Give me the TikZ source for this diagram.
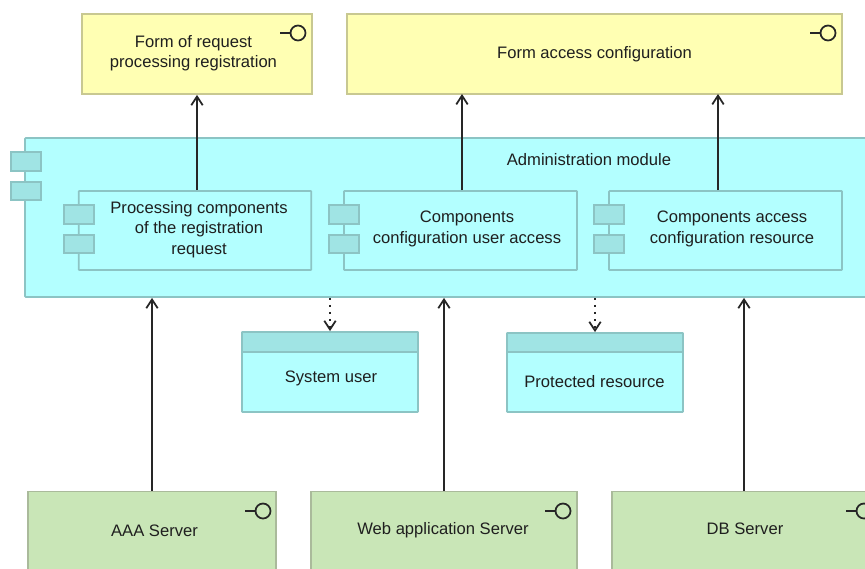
\documentclass[tikz,border=0pt]{standalone}
\usepackage{fontspec}
\setmainfont{Liberation Sans}
\usetikzlibrary{arrows.meta}
\definecolor{modfill}{RGB}{179,255,255}
\definecolor{modline}{RGB}{140,196,196}
\definecolor{portfill}{RGB}{160,228,228}
\definecolor{formfill}{RGB}{255,255,179}
\definecolor{formline}{RGB}{200,200,145}
\definecolor{srvfill}{RGB}{201,230,183}
\definecolor{srvline}{RGB}{170,186,155}
\tikzset{
  every node/.style={inner sep=0pt,align=center,font=\fontsize{9.45}{11.6}\selectfont,text=black!88},
  modbox/.style={draw=modline,fill=modfill,line width=1pt,rounded corners=0.4pt},
  portbox/.style={draw=modline,fill=portfill,line width=1pt,minimum width=0.6cm,minimum height=0.37cm},
  formbox/.style={draw=formline,fill=formfill,line width=1pt,minimum height=1.6cm},
  srvbox/.style={draw=srvline,fill=srvfill,line width=1pt,minimum height=2cm},
  lolli/.style={circle,draw=black!85,line width=1pt,minimum size=0.3cm},
  link/.style={black!85,line width=1pt,->,>={Straight Barb[length=5pt,width=6.5pt]}},
}
\begin{document}
\begin{tikzpicture}[x=0.02cm,y=-0.02cm]
\useasboundingbox (0,0) rectangle (865,568);
\clip (0,0) rectangle (865,568);
\node [formbox,minimum width=4.6cm] (formreq) at (197,54) {};
\node (formreqtxt) at (193.5,53) {Form of request\\processing registration};
\node [formbox,minimum width=9.9cm] (formacc) at (594.5,54) {Form access configuration};
\node [modbox,minimum width=17.5cm,minimum height=3.18cm] (admin) at (462.5,217.5) {};
\node (admintxt) at (589,159.5) {Administration module};
\node [portbox] (adminp1) at (26,161.5) {};
\node [portbox] (adminp2) at (26,191) {};
\node [modbox,minimum width=4.65cm,minimum height=1.58cm] (procreq) at (195,230.5) {};
\node [modbox,minimum width=4.66cm,minimum height=1.58cm] (confuser) at (460.5,230.5) {};
\node [modbox,minimum width=4.66cm,minimum height=1.58cm] (confres) at (725.5,230.5) {};
\foreach \n/\x in {procreq/79,confuser/344,confres/609} {
  \node [portbox] (\n p1) at (\x,214.5) {};
  \node [portbox] (\n p2) at (\x,244) {};
}
\node (procreqtxt) at (199,229.5) {Processing components\\of the registration\\request};
\node (confusertxt) at (467,229) {Components\\configuration user access};
\node (confrestxt) at (732,229) {Components access\\configuration resource};
\node [modbox,minimum width=3.52cm,minimum height=1.6cm] (sysuser) at (330,372) {};
\node [modbox,fill=portfill,minimum width=3.52cm,minimum height=0.4cm] (sysuserh) at (330,342) {};
\node (sysusertxt) at (331,378) {System user};
\node [modbox,minimum width=3.52cm,minimum height=1.58cm] (protres) at (595,372.5) {};
\node [modbox,fill=portfill,minimum width=3.52cm,minimum height=0.38cm] (protresh) at (595,342.5) {};
\node (protrestxt) at (594.5,382) {Protected resource};
\node [srvbox,minimum width=4.96cm] (aaa) at (152,541.5) {};
\node (aaatxt) at (154.5,531) {AAA Server};
\node [srvbox,minimum width=5.32cm] (web) at (444,541.5) {};
\node (webtxt) at (443,530) {Web application Server};
\node [srvbox,minimum width=5.28cm] (db) at (744,541.5) {};
\node (dbtxt) at (745,529) {DB Server};
\foreach \n/\x/\y in {lolreq/298/33,lolacc/828/33,lolaaa/263/511,lolweb/563/511,loldb/864/511} {
  \node [lolli] (\n) at (\x,\y) {};
  \draw [black!85,line width=1pt] (\n.west) -- ++(-10,0);
}
\coordinate (accuser) at (462,94);
\coordinate (accres) at (718,94);
\draw [link] (formreq.south |- procreq.north) -- (formreq.south);
\draw [link] (accuser |- confuser.north) -- (accuser);
\draw [link] (accres |- confres.north) -- (accres);
\draw [link] (aaa.north) -- (aaa.north |- admin.south);
\draw [link] (web.north) -- (web.north |- admin.south);
\draw [link] (db.north) -- (db.north |- admin.south);
\draw [link,dash pattern=on 1.3pt off 2.7pt] (sysuser.north |- admin.south) -- (sysuser.north);
\draw [link,dash pattern=on 1.3pt off 2.7pt] (protres.north |- admin.south) -- (protres.north);
\end{tikzpicture}
\end{document}
